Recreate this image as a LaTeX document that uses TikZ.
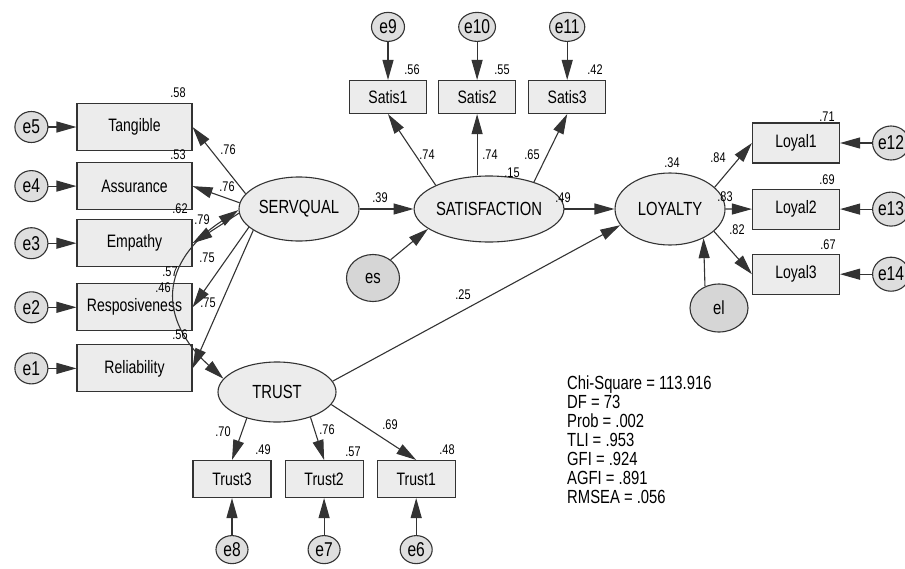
\documentclass[tikz,border=0pt]{standalone}
\usepackage{xcolor}
\usepackage{fontspec}
\setmainfont{Liberation Sans}[FakeStretch=0.78]
\usepackage{tikz}
\usetikzlibrary{shapes.geometric, arrows.meta, positioning, calc}
\definecolor{amosfill}{HTML}{ECECEC}
\definecolor{errfill}{HTML}{DEDEDE}
\definecolor{distfill}{HTML}{D6D6D6}
\definecolor{amosline}{HTML}{333333}

\begin{document}
\begin{tikzpicture}[x=1pt, y=-1pt,
  obs/.style={rectangle, draw=amosline, line width=1.1pt, fill=amosfill,
    minimum width=115pt, minimum height=47pt, inner sep=1pt,
    font=\fontsize{18}{20}\selectfont},
  ind/.style={obs, minimum width=77pt, minimum height=33pt},
  lat/.style={ellipse, draw=amosline, line width=1.1pt, fill=amosfill,
    inner sep=0pt, font=\fontsize{19}{21}\selectfont},
  dist/.style={lat, fill=distfill},
  err/.style={ellipse, draw=amosline, line width=1.1pt, fill=errfill,
    minimum width=33pt, minimum height=31pt, inner sep=0pt,
    font=\fontsize{20}{22}\selectfont},
  coef/.style={inner sep=0pt, font=\fontsize{14}{15}\selectfont},
  link/.style={-{Triangle[length=20pt,width=11pt]}, line width=1.1pt, draw=amosline},
  cov/.style={{Triangle[length=20pt,width=11pt]}-{Triangle[length=20pt,width=11pt]},
    line width=1.1pt, draw=amosline}
]
  \useasboundingbox (0,0) rectangle (905,568);

  \node[obs] (tang) at (134.5,127) {Tangible};
  \node[obs, below=11pt of tang]  (assur) {Assurance};
  \node[obs, below=9pt of assur]  (emp)   {Empathy};
  \node[obs, below=16pt of emp]   (resp)  {Resposiveness};
  \node[obs, below=13pt of resp]  (reli)  {Reliability};

  \node[err, left=28pt of tang]  (e5) {e5};
  \node[err, left=28pt of assur] (e4) {e4};
  \node[err, left=28pt of emp]   (e3) {e3};
  \node[err, left=28pt of resp]  (e2) {e2};
  \node[err, left=28pt of reli]  (e1) {e1};

  \node[lat, minimum width=120pt, minimum height=64pt] (serv) at (299,209) {SERVQUAL};
  \node[lat, minimum width=140pt, minimum height=66pt, right=54pt of serv] (sat) {SATISFACTION};
  \node[lat, minimum width=110pt, minimum height=72pt, right=50pt of sat]  (loy) {LOYALTY};
  \node[lat, minimum width=118pt, minimum height=60pt] (trust) at (277,392) {TRUST};
  \node[dist, minimum width=53pt, minimum height=47pt] (es) at (373,278) {es};
  \node[dist, minimum width=58pt, minimum height=48pt] (el) at (719,308) {el};

  \node[ind] (sat1) at (388,97) {Satis1};
  \node[ind, right=11pt of sat1] (sat2) {Satis2};
  \node[ind, right=12pt of sat2] (sat3) {Satis3};
  \node[err, minimum height=29pt, above=38pt of sat1] (e9)  {e9};
  \node[err, minimum height=29pt, above=38pt of sat2] (e10) {e10};
  \node[err, minimum height=29pt, above=38pt of sat3] (e11) {e11};

  \node[ind, minimum width=87pt, minimum height=40pt] (loyal1) at (796,143) {Loyal1};
  \node[ind, minimum width=87pt, minimum height=40pt, below=25pt of loyal1] (loyal2) {Loyal2};
  \node[ind, minimum width=87pt, minimum height=40pt, below=24pt of loyal2] (loyal3) {Loyal3};
  \node[err, minimum width=34pt, minimum height=34pt, right=32pt of loyal1] (e12) {e12};
  \node[err, minimum width=34pt, minimum height=34pt, right=32pt of loyal2] (e13) {e13};
  \node[err, minimum width=34pt, minimum height=34pt, right=32pt of loyal3] (e14) {e14};

  \node[ind, minimum width=78pt, minimum height=37pt] (trust3) at (232,479) {Trust3};
  \node[ind, minimum width=78pt, minimum height=37pt, right=13pt of trust3] (trust2) {Trust2};
  \node[ind, minimum width=78pt, minimum height=37pt, right=13pt of trust2] (trust1) {Trust1};
  \node[err, minimum width=32pt, minimum height=28pt, below=37pt of trust3] (e8) {e8};
  \node[err, minimum width=32pt, minimum height=28pt, below=37pt of trust2] (e7) {e7};
  \node[err, minimum width=32pt, minimum height=28pt, below=37pt of trust1] (e6) {e6};

  \draw[link] (e5) -- (tang);
  \draw[link] (e4) -- (assur);
  \draw[link] (e3) -- (emp);
  \draw[link] (e2) -- (resp);
  \draw[link] (e1) -- (reli);
  \draw[link] (serv.164) -- (tang.east);
  \draw[link] (serv.174) -- (assur.east);
  \draw[link] (serv.184) -- (emp.east);
  \draw[link] (serv.200) -- (resp.east);
  \draw[link] (serv.205) -- (reli.east);
  \draw[cov] (serv.181) .. controls +(-79,52) and +(-66,-60) .. (trust.166);

  \draw[link] (serv.east) -- (sat.west);
  \draw[link] (es.46) -- (sat.198);
  \draw[link] (sat.east) -- (loy.west);
  \draw[link] (trust.11) -- (loy.198);
  \draw[link] (el.123) -- (loy.319);

  \draw[link] (sat.156) -- (sat1.south);
  \draw[link] (sat.north -| sat2) -- (sat2.south);
  \draw[link] (sat.31) -- (sat3.south);
  \draw[link] (e9) -- (sat1);
  \draw[link] (e10) -- (sat2);
  \draw[link] (e11) -- (sat3);

  \draw[link] (loy.26) -- (loyal1.west);
  \draw[link] (loy.east) -- (loyal2.west);
  \draw[link] (loy.333) -- (loyal3.west);
  \draw[link] (e12) -- (loyal1);
  \draw[link] (e13) -- (loyal2);
  \draw[link] (e14) -- (loyal3);

  \draw[link] (trust.221) -- (trust3.north);
  \draw[link] (trust.323) -- (trust2.north);
  \draw[link] (trust.347) -- (trust1.north);
  \draw[link] (e8) -- (trust3);
  \draw[link] (e7) -- (trust2);
  \draw[link] (e6) -- (trust1);

  \node[coef] (r58)  at (178,93)  {.58};
  \node[coef] (r53)  at (178,155) {.53};
  \node[coef] (r62)  at (180,209) {.62};
  \node[coef] (r57a) at (170,272) {.57};
  \node[coef] (r46)  at (163,288) {.46};
  \node[coef] (r56a) at (180,335) {.56};
  \node[coef] (w76a) at (228,150) {.76};
  \node[coef] (w76b) at (227,187) {.76};
  \node[coef] (w79)  at (202,220) {.79};
  \node[coef] (w75a) at (207,258) {.75};
  \node[coef] (w75b) at (208,303) {.75};

  \node[coef] (w39)  at (380,198) {.39};
  \node[coef] (w74a) at (427,155) {.74};
  \node[coef] (w74b) at (490,155) {.74};
  \node[coef] (w65)  at (532,155) {.65};
  \node[coef] (r15)  at (512,173) {.15};
  \node[coef] (w49)  at (563,198) {.49};
  \node[coef] (r56b) at (412,70)  {.56};
  \node[coef] (r55)  at (502,70)  {.55};
  \node[coef] (r42)  at (595,70)  {.42};

  \node[coef] (r34)  at (672,163) {.34};
  \node[coef] (w84)  at (718,158) {.84};
  \node[coef] (w83)  at (725,197) {.83};
  \node[coef] (w82)  at (737,230) {.82};
  \node[coef] (r71)  at (827,117) {.71};
  \node[coef] (r69a) at (827,180) {.69};
  \node[coef] (r67)  at (828,245) {.67};
  \node[coef] (w25)  at (463,295) {.25};

  \node[coef] (w70)  at (223,432) {.70};
  \node[coef] (r49b) at (263,450) {.49};
  \node[coef] (w76c) at (327,430) {.76};
  \node[coef] (r57b) at (353,452) {.57};
  \node[coef] (w69b) at (390,425) {.69};
  \node[coef] (r48)  at (447,450) {.48};

  \node[inner sep=0pt, anchor=north west, align=left,
    font=\fontsize{19}{19}\selectfont] (fit) at (567,376)
    {Chi-Square = 113.916\\ DF = 73\\ Prob = .002\\ TLI = .953\\ GFI = .924\\ AGFI = .891\\ RMSEA = .056};
\end{tikzpicture}
\end{document}
